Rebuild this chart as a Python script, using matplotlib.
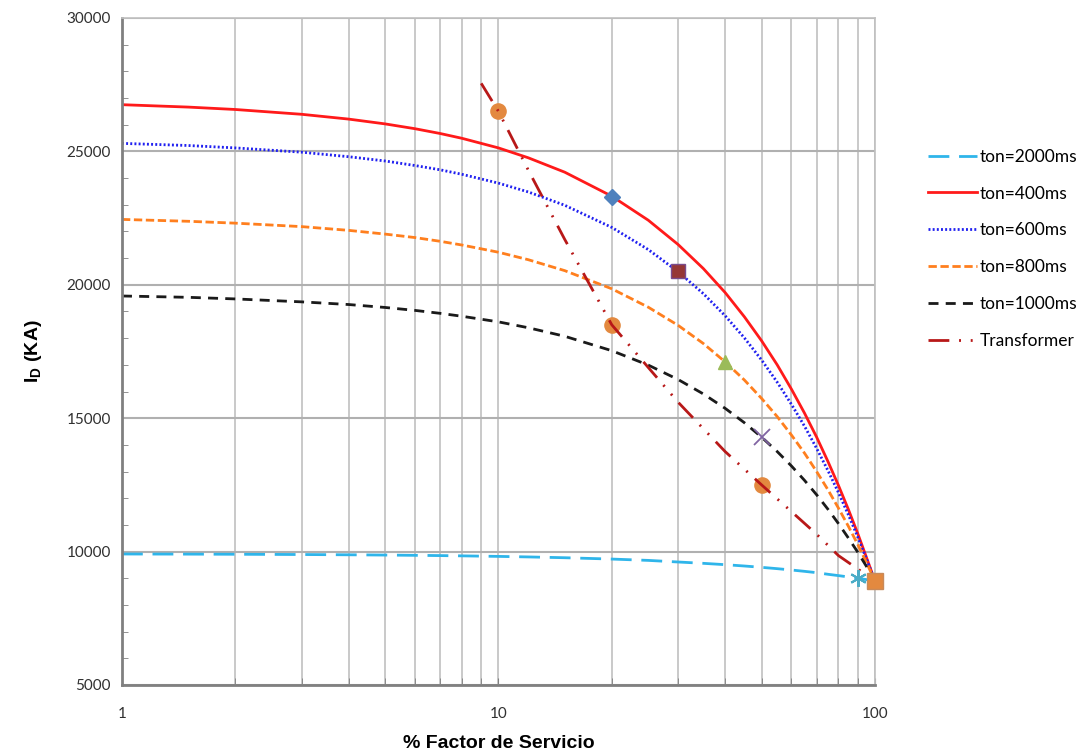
import matplotlib
matplotlib.use('Agg')
import matplotlib.pyplot as plt
from matplotlib.ticker import LogLocator, MultipleLocator, FixedLocator

plt.rcParams['mathtext.fontset'] = 'custom'
plt.rcParams['mathtext.bf'] = 'Liberation Sans:bold'
plt.rcParams['mathtext.rm'] = 'Liberation Sans'

# % factor de servicio where curves were read
x_pts = [1, 1.5, 2, 3, 4, 5, 6, 7, 8, 10, 12, 15, 20, 25, 30, 35, 40, 45, 50,
         55, 60, 65, 70, 75, 80, 85, 90, 95, 100]

ton2000 = [9910, 9905, 9900, 9890, 9880, 9870, 9860, 9850, 9840, 9820, 9800, 9770, 9720, 9670, 9610,
           9560, 9510, 9460, 9410, 9360, 9310, 9260, 9210, 9150, 9100, 9050, 9000, 8950, 8900]
ton400 = [26750, 26660, 26570, 26390, 26210, 26030, 25850, 25670, 25490, 25130, 24760, 24220, 23320, 22420, 21510,
          20610, 19710, 18800, 17900, 17000, 16090, 15190, 14290, 13380, 12480, 11580, 10680, 9770, 8900]
ton600 = [25300, 25220, 25130, 24970, 24800, 24640, 24470, 24310, 24140, 23810, 23480, 22980, 22150, 21320, 20490,
          19670, 18840, 18010, 17180, 16350, 15520, 14700, 13870, 13040, 12210, 11380, 10550, 9720, 8900]
ton800 = [22450, 22380, 22310, 22180, 22040, 21900, 21770, 21630, 21490, 21220, 20940, 20530, 19850, 19160, 18480,
          17800, 17110, 16430, 15740, 15060, 14370, 13690, 13000, 12320, 11630, 10950, 10270, 9580, 8900]
ton1000 = [19580, 19530, 19470, 19360, 19260, 19150, 19040, 18930, 18820, 18610, 18390, 18070, 17530, 16990, 16450,
           15910, 15370, 14830, 14290, 13750, 13210, 12670, 12130, 11590, 11050, 10510, 9980, 9440, 8900]

trafo_x = [9, 10, 12, 15, 20, 25, 30, 40, 50, 60, 70, 80, 90, 100]
trafo_y = [27550, 26500, 24300, 21700, 18500, 16900, 15600, 13750, 12500, 11500, 10650, 9850, 9350, 8900]

# operating points
circ_x = [10, 20, 50]
circ_y = [26500, 18500, 12500]
pts = [
    (20, 23300, 'D', '#4F81BD', '#4F81BD', 8),
    (30, 20500, 's', '#953735', '#7A4C8C', 10),
    (40, 17100, '^', '#9BBB59', '#9BBB59', 10),
    (50, 14300, 'x', '#8064A2', '#8064A2', 11),
    (90, 9000, '*', '#4BACC6', '#4BACC6', 12),
    (100, 8900, 's', '#E3893F', '#C98A5A', 11),
]

fig = plt.figure(figsize=(10.85, 7.52), dpi=100)
ax = fig.add_axes([0.1124, 0.0891, 0.694, 0.887])

ax.plot(x_pts, ton2000, color='#2FB5EA', lw=2, dashes=(7.5, 3.5), label='ton=2000ms')
ax.plot(x_pts, ton400, color='#FF1A1A', lw=2, label='ton=400ms')
ax.plot(x_pts, ton600, color='#2020F0', lw=2, dashes=(0.7, 0.8), label='ton=600ms')
ax.plot(x_pts, ton800, color='#FF7F1E', lw=2, dashes=(3, 1.3), label='ton=800ms')
ax.plot(x_pts, ton1000, color='#1A1A1A', lw=2, dashes=(3.6, 2.6), label='ton=1000ms')

ax.scatter(circ_x, circ_y, s=120, color='#E3893F', zorder=4)
ax.plot(trafo_x, trafo_y, color='#B81818', lw=2, dashes=(7.5, 3.5, 0.7, 3.5, 0.7, 3.5),
        label='Transformer', zorder=5)

for px, py, m, c, ec, s in pts:
    if m == '*':
        ax.plot(px, py, marker=(6, 2, 0), color=c, ms=s, mew=1.5, zorder=6, clip_on=False)
    elif m == 'x':
        ax.plot(px, py, marker='x', color=c, ms=s, mew=1.3, zorder=6, clip_on=False)
    else:
        ax.plot(px, py, marker=m, color=c, ms=s, mec=ec, mew=1, zorder=6, clip_on=False)

ax.set_xscale('log')
ax.set_xlim(1, 100)
ax.set_ylim(5000, 30000)
ax.xaxis.set_major_locator(FixedLocator([1, 10, 100]))
ax.xaxis.set_minor_locator(LogLocator(base=10, subs=range(2, 10)))
ax.xaxis.set_minor_formatter(plt.NullFormatter())
ax.set_xticklabels(['1', '10', '100'])
ax.yaxis.set_major_locator(MultipleLocator(5000))
ax.yaxis.set_minor_locator(MultipleLocator(1000))

ax.grid(True, which='both', axis='x', color='#C0C0C0', lw=1.2)
ax.grid(True, which='major', axis='y', color='#B0B0B0', lw=1.5)
ax.set_axisbelow(True)

for side in ['left', 'bottom']:
    ax.spines[side].set_color('#808080')
    ax.spines[side].set_linewidth(2)
for side in ['top', 'right']:
    ax.spines[side].set_color('#C0C0C0')
    ax.spines[side].set_linewidth(1.2)

ax.tick_params(axis='both', which='both', direction='in', colors='#808080',
               labelcolor='#303030', labelsize=11)
ax.tick_params(axis='x', which='both', length=5, pad=16)
ax.tick_params(axis='y', which='major', length=0, pad=8)
ax.tick_params(axis='y', which='minor', length=4)
for lbl in ax.get_xticklabels() + ax.get_yticklabels():
    lbl.set_family('Lato')

ax.set_xlabel('% Factor de Servicio', family='Liberation Sans', fontweight='bold',
              fontsize=14, labelpad=10)
ax.set_ylabel(r'I$_\mathbf{D}$ (KA)', family='Liberation Sans', fontweight='bold',
              fontsize=14, labelpad=16)

leg = ax.legend(loc='center left', bbox_to_anchor=(1.05, 0.654), frameon=False,
                labelspacing=1.2, handlelength=2.8, handletextpad=0.15,
                prop={'family': 'Lato', 'size': 12.5})

fig.savefig('out.png', dpi=100)
